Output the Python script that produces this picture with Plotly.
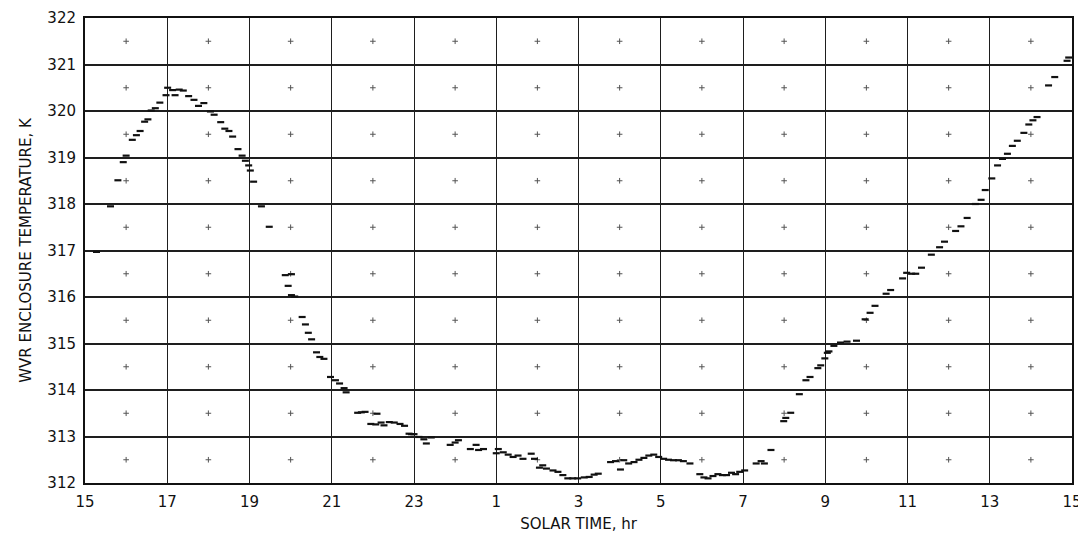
"""
WVR enclosure temperature vs solar time (scanned chart recreation).
"""

import plotly.graph_objects as go

INK        = "#111111"
GRID_COLOR = "#1e1e1e"
MARK_COLOR = "#555555"
FONT       = "DejaVu Sans"

# solar time in hours, continuous from 15 h on day 1 to 15 h on day 2 (39 = 15 h next day)
solar_hr = [
    15.28, 15.62, 15.80, 15.93, 16.00, 16.15, 16.25, 16.34, 16.45, 16.53,
    16.61, 16.71, 16.82, 16.97, 17.01, 17.13, 17.19, 17.29, 17.39, 17.52,
    17.65, 17.76, 17.89, 18.05, 18.14, 18.30, 18.40, 18.50, 18.59, 18.72,
    18.82, 18.90, 18.98, 19.02, 19.10, 19.29, 19.48, 19.87, 19.94, 20.02,
    20.02, 20.10, 20.28, 20.36, 20.43, 20.51, 20.63, 20.71, 20.81, 20.97,
    21.09, 21.19, 21.30, 21.35, 21.63, 21.72, 21.81, 21.95, 22.07, 22.10,
    22.20, 22.27, 22.40, 22.52, 22.66, 22.77, 22.88, 22.94, 23.00, 23.12,
    23.24, 23.30, 23.42, 23.88, 24.00, 24.08, 24.37, 24.51, 24.57, 24.69,
    25.00, 25.05, 25.17, 25.29, 25.41, 25.53, 25.65, 25.85, 25.93, 26.05,
    26.13, 26.22, 26.38, 26.50, 26.62, 26.74, 26.86, 26.98, 27.14, 27.26,
    27.38, 27.48, 27.78, 27.90, 28.02, 28.10, 28.22, 28.35, 28.47, 28.59,
    28.71, 28.83, 28.95, 29.07, 29.19, 29.31, 29.43, 29.55, 29.71, 29.95,
    30.05, 30.15, 30.27, 30.39, 30.50, 30.60, 30.72, 30.82, 30.92, 31.04,
    31.32, 31.44, 31.52, 31.68, 31.99, 32.04, 32.16, 32.37, 32.53, 32.63,
    32.82, 32.89, 32.99, 33.05, 33.09, 33.21, 33.37, 33.53, 33.76, 33.97,
    34.09, 34.21, 34.48, 34.59, 34.88, 34.98, 35.10, 35.20, 35.34, 35.58,
    35.78, 35.90, 36.17, 36.30, 36.45, 36.65, 36.79, 36.89, 37.05, 37.19,
    37.31, 37.43, 37.55, 37.67, 37.83, 37.95, 38.05, 38.15, 38.43, 38.58,
    38.88, 38.92,
]

temp_k = [
    316.97, 317.95, 318.51, 318.90, 319.04, 319.38, 319.48, 319.57, 319.77, 319.82,
    320.01, 320.06, 320.18, 320.34, 320.50, 320.45, 320.34, 320.46, 320.44, 320.32,
    320.24, 320.11, 320.17, 319.99, 319.92, 319.76, 319.62, 319.57, 319.45, 319.18,
    319.04, 318.93, 318.83, 318.72, 318.48, 317.95, 317.51, 316.47, 316.24, 316.49,
    316.04, 316.01, 315.57, 315.41, 315.23, 315.09, 314.81, 314.71, 314.67, 314.28,
    314.21, 314.14, 314.04, 313.95, 313.51, 313.52, 313.53, 313.27, 313.26, 313.49,
    313.30, 313.24, 313.31, 313.30, 313.27, 313.23, 313.06, 313.05, 313.05, 312.99,
    312.94, 312.85, 312.98, 312.82, 312.87, 312.92, 312.73, 312.82, 312.71, 312.73,
    312.64, 312.73, 312.66, 312.61, 312.56, 312.59, 312.52, 312.63, 312.52, 312.33,
    312.38, 312.31, 312.27, 312.24, 312.17, 312.10, 312.10, 312.10, 312.12, 312.13,
    312.18, 312.20, 312.45, 312.47, 312.29, 312.49, 312.42, 312.45, 312.50, 312.54,
    312.59, 312.61, 312.56, 312.52, 312.50, 312.49, 312.49, 312.47, 312.42, 312.19,
    312.12, 312.10, 312.15, 312.19, 312.17, 312.17, 312.22, 312.19, 312.24, 312.27,
    312.42, 312.47, 312.42, 312.71, 313.33, 313.40, 313.51, 313.91, 314.21, 314.28,
    314.47, 314.53, 314.68, 314.80, 314.83, 314.95, 315.02, 315.04, 315.06, 315.52,
    315.66, 315.81, 316.07, 316.15, 316.40, 316.52, 316.50, 316.50, 316.63, 316.91,
    317.07, 317.19, 317.42, 317.52, 317.70, 318.00, 318.09, 318.30, 318.55, 318.83,
    318.97, 319.08, 319.25, 319.36, 319.53, 319.71, 319.80, 319.87, 320.55, 320.73,
    321.08, 321.15,
]

x_tickvals = [15, 17, 19, 21, 23, 25, 27, 29, 31, 33, 35, 37, 39]
x_ticktext = ["15", "17", "19", "21", "23", "1", "3", "5", "7", "9", "11", "13", "15"]
y_tickvals = [312, 313, 314, 315, 316, 317, 318, 319, 320, 321, 322]

# graph-paper minor marks: even hours x half degrees
minor_hr = [16, 18, 20, 22, 24, 26, 28, 30, 32, 34, 36, 38]
minor_k  = [312.5, 313.5, 314.5, 315.5, 316.5, 317.5, 318.5, 319.5, 320.5, 321.5]

mark_x = [h for h in minor_hr for _ in minor_k]
mark_y = [k for _ in minor_hr for k in minor_k]

fig = go.Figure()

fig.add_trace(go.Scatter(
    x=mark_x,
    y=mark_y,
    mode="markers",
    marker=dict(symbol="cross-thin", size=4, line=dict(color=MARK_COLOR, width=1)),
    hoverinfo="skip",
))

fig.add_trace(go.Scatter(
    x=solar_hr,
    y=temp_k,
    mode="markers",
    marker=dict(symbol="line-ew", size=5, line=dict(color=INK, width=2.2)),
    name="WVR enclosure",
))

# page body adds an 8 px margin, so the figure is sized to sit inside the window
fig.update_layout(
    width=1078,
    height=525,
    margin=dict(l=77, r=14, t=10, b=50, autoexpand=False),
    plot_bgcolor="white",
    paper_bgcolor="white",
    showlegend=False,
    font=dict(family=FONT, color=INK),
    xaxis=dict(
        range=[15, 39],
        tickvals=x_tickvals,
        ticktext=x_ticktext,
        tickfont=dict(size=15, color=INK),
        ticklabeloverflow="allow",
        automargin=False,
        showgrid=True,
        gridcolor=GRID_COLOR,
        gridwidth=1.2,
        zeroline=False,
        showline=True,
        linecolor=INK,
        linewidth=2,
        mirror=True,
        ticks="",
        ticklabelstandoff=4,
        title=dict(text="SOLAR TIME, hr", font=dict(size=15, color=INK), standoff=16),
    ),
    yaxis=dict(
        range=[312, 322],
        tickvals=y_tickvals,
        tickfont=dict(size=15, color=INK),
        ticklabeloverflow="allow",
        automargin=False,
        showgrid=True,
        gridcolor=GRID_COLOR,
        gridwidth=1.5,
        zeroline=False,
        showline=True,
        linecolor=INK,
        linewidth=2,
        mirror=True,
        ticks="",
        ticklabelstandoff=4,
        title=dict(text="WVR ENCLOSURE TEMPERATURE, K", font=dict(size=15, color=INK), standoff=12),
    ),
)

fig.write_html("out.html")
